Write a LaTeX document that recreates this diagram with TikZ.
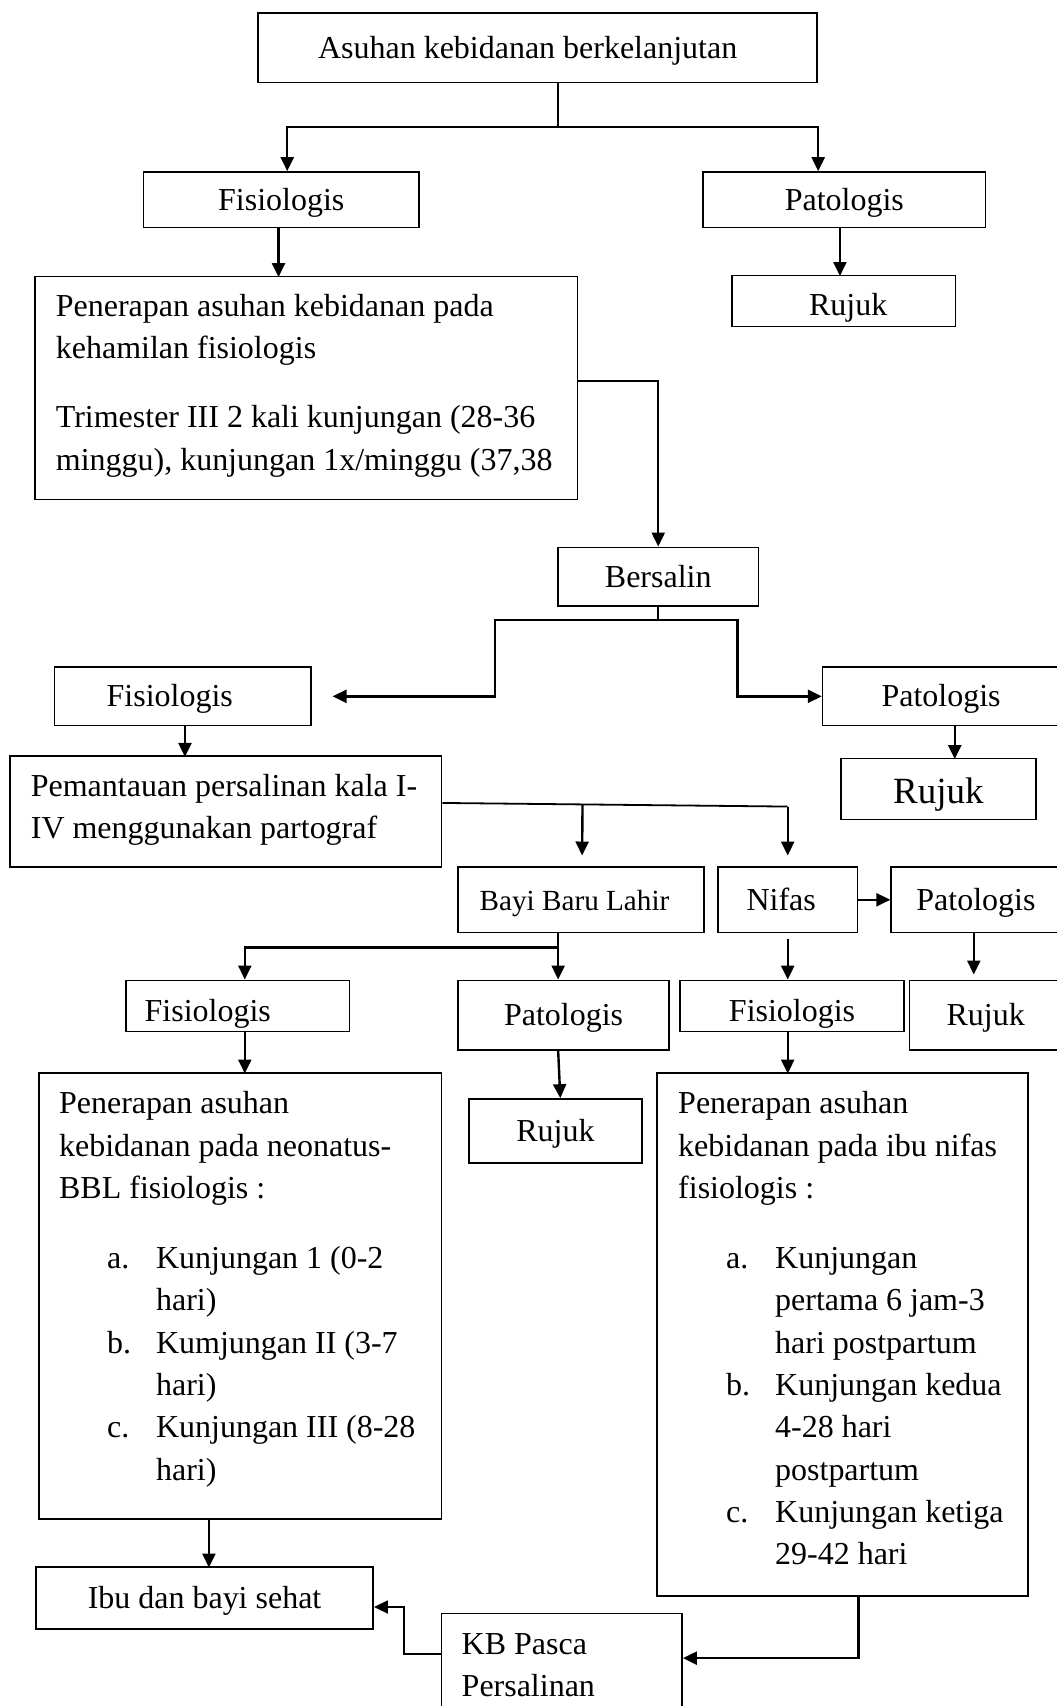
\documentclass[tikz,border=0pt]{standalone}
\usepackage{fontspec}
\setmainfont{Liberation Serif}
\usetikzlibrary{arrows.meta,calc}
\newcommand\fs{\fontsize{16}{21.15}\selectfont}
\newcommand\fsb{\fontsize{14.6}{19}\selectfont}
\newcommand\fsr{\fontsize{18.5}{22}\selectfont}
\newcommand\mkbox[7][]{\node[box,#1, minimum width={(#4-#2)*0.5443pt}, minimum height={(#6-#3)*0.5443pt}] (#5) at ({(#2+#4)/2},{(#3+#6)/2}) {#7};}
\newcommand\lab[1]{\hspace*{24pt}\makebox[24.5pt][l]{#1}}
\newcommand\ind{\hspace*{48.5pt}}
\begin{document}
\begin{tikzpicture}[x=0.5443pt,y=-0.5443pt,
  box/.style={draw, line width=0.75pt, inner sep=0pt, font=\fs, text height=12pt, text depth=1.5pt},
  conn/.style={line width=1.2pt},
  arr/.style={conn, -{Triangle[length=7pt,width=6.5pt]}},
  tarr/.style={line width=0.9pt, -{Triangle[length=7pt,width=6.5pt]}},
  txt/.style={inner sep=0pt, align=left, anchor=north west, font=\fs}]
\useasboundingbox (0,0) rectangle (971,1568);
% boxes: x1 y1 x2 name y2 text
\mkbox{237}{12}{751}{top}{76}{\hspace*{-9.8pt}Asuhan kebidanan berkelanjutan}
\mkbox{132}{158}{385}{fis1}{209}{Fisiologis}
\mkbox{646}{158}{906}{pat1}{209}{Patologis}
\mkbox{673}{253}{878}{ruj1}{300}{\hspace*{4.4pt}\raisebox{-2.2pt}[0pt][0pt]{Rujuk}}
\mkbox{32}{254}{531}{keh}{459}{}
\node[txt] (kehT) at (51,270) {Penerapan asuhan kebidanan pada\\kehamilan fisiologis\\[13.5pt]Trimester III 2 kali kunjungan (28-36\\minggu), kunjungan 1x/minggu (37,38};
\mkbox{513}{503}{697}{bers}{557}{Bersalin}
\mkbox{50}{613}{286}{fis2}{667}{\hspace*{-13pt}Fisiologis}
\mkbox{756}{613}{974}{pat2}{667}{Patologis}
\mkbox[font=\fsr, text height=15pt, text depth=0pt]{773}{697}{952}{ruj2}{753}{Rujuk}
\mkbox{9}{695}{406}{pem}{797}{}
\node[txt] (pemT) at (28,711) {Pemantauan persalinan kala I-\\IV menggunakan partograf};
\mkbox[font=\fsb]{421}{797}{647}{bbl}{857}{\hspace*{-6.5pt}Bayi Baru Lahir}
\mkbox{660}{797}{788}{nifas}{857}{\hspace*{-6.5pt}Nifas}
\mkbox{819}{797}{975}{pat3}{857}{Patologis}
\mkbox{836}{901}{976}{ruj3}{965}{Rujuk}
\mkbox{116}{901}{321}{fis3}{948}{\hspace*{-30pt}\raisebox{-2.7pt}[0pt][0pt]{Fisiologis}}
\mkbox{421}{901}{615}{pat4}{965}{Patologis}
\mkbox{625}{901}{831}{fis4}{948}{\raisebox{-2.7pt}[0pt][0pt]{Fisiologis}}
\mkbox{431}{1010}{590}{ruj4}{1069}{Rujuk}
\mkbox{36}{986}{406}{neo}{1396}{}
\node[txt] (neoT) at (54,1003) {Penerapan asuhan\\kebidanan pada neonatus-\\BBL fisiologis :\\[14pt]\lab{a.}Kunjungan 1 (0-2\\\ind hari)\\\lab{b.}Kumjungan II (3-7\\\ind hari)\\\lab{c.}Kunjungan III (8-28\\\ind hari)};
\mkbox{604}{986}{945}{nbox}{1467}{}
\node[txt] (nboxT) at (623,1003) {Penerapan asuhan\\kebidanan pada ibu nifas\\fisiologis :\\[14pt]\lab{a.}Kunjungan\\\ind pertama 6 jam-3\\\ind hari postpartum\\\lab{b.}Kunjungan kedua\\\ind 4-28 hari\\\ind postpartum\\\lab{c.}Kunjungan ketiga\\\ind 29-42 hari};
\mkbox{33}{1440}{343}{ibu}{1497}{Ibu dan bayi sehat}
\mkbox{406}{1483}{627}{kb}{1580}{}
\node[txt] (kbT) at (424,1501) {KB Pasca\\Persalinan};
% connectors
\draw[conn] ($(top.south)+(19,0)$) -- ++(0,40) coordinate (j1);
\draw[arr] (j1) -| ($(fis1.north)+(5.5,0)$);
\draw[arr] (j1) -| ($(pat1.north)+(-24,0)$);
\draw[arr] ($(fis1.south)+(-2.5,0)$) -- ++(0,45);
\draw[arr] ($(pat1.south)+(-4,0)$) -- ++(0,44);
\draw[arr] ($(keh.east)+(0,-6.5)$) -| (bers.north);
\draw[conn] (bers.south) -- ++(0,12) coordinate (j2);
\draw[arr] (j2) -- ++(-150,0) |- ($(fis2.east)+(19,0)$);
\draw[arr] (j2) -- ++(73,0) |- (pat2.west);
\draw[arr] ($(fis2.south)+(2,0)$) -- ++(0,28);
\draw[arr] ($(pat2.south)+(12.5,0)$) -- ++(0,30);
\coordinate (p0) at ($(pem.east)+(0,-8)$);
\coordinate (j3) at ($(nifas.north)+(0,-55)$);
\draw[line width=0.9pt] (p0) -- (j3);
\draw[arr] (j3) -- ($(nifas.north)+(0,-10)$);
\draw[arr] ($(p0)!0.4057!(j3)$) -- ($(bbl.north)+(1,-10)$);
\draw[arr] (nifas.east) -- (pat3.west);
\draw[arr] ($(pat3.south)+(-2,0)$) -- ++(0,38);
\draw[conn] ($(bbl.south)+(-21,0)$) -- ++(0,13) coordinate (j4);
\draw[arr] (j4) -| ($(fis3.north)+(6.5,0)$);
\draw[arr] (j4) -- ($(pat4.north)+(-5,0)$);
\draw[arr] ($(nifas.south)+(0,5)$) -- ($(fis4.north)+(-4,0)$);
\draw[arr] ($(pat4.south)+(-5,0)$) -- ($(ruj4.north)+(4.5,0)$);
\draw[arr] ($(fis3.south)+(6.5,0)$) -- ++(0,38);
\draw[arr] ($(fis4.south)+(-4,0)$) -- ++(0,38);
\draw[arr] ($(neo.south)+(-29,0)$) -- ++(0,44);
\draw[arr] ($(nbox.south)+(14.5,0)$) |- ($(kb.east)+(0,-7.5)$);
\draw[tarr] ($(kb.west)+(0,-11.5)$) -- ++(-34,0) |- ($(ibu.east)+(0,8.5)$);
\end{tikzpicture}
\end{document}
